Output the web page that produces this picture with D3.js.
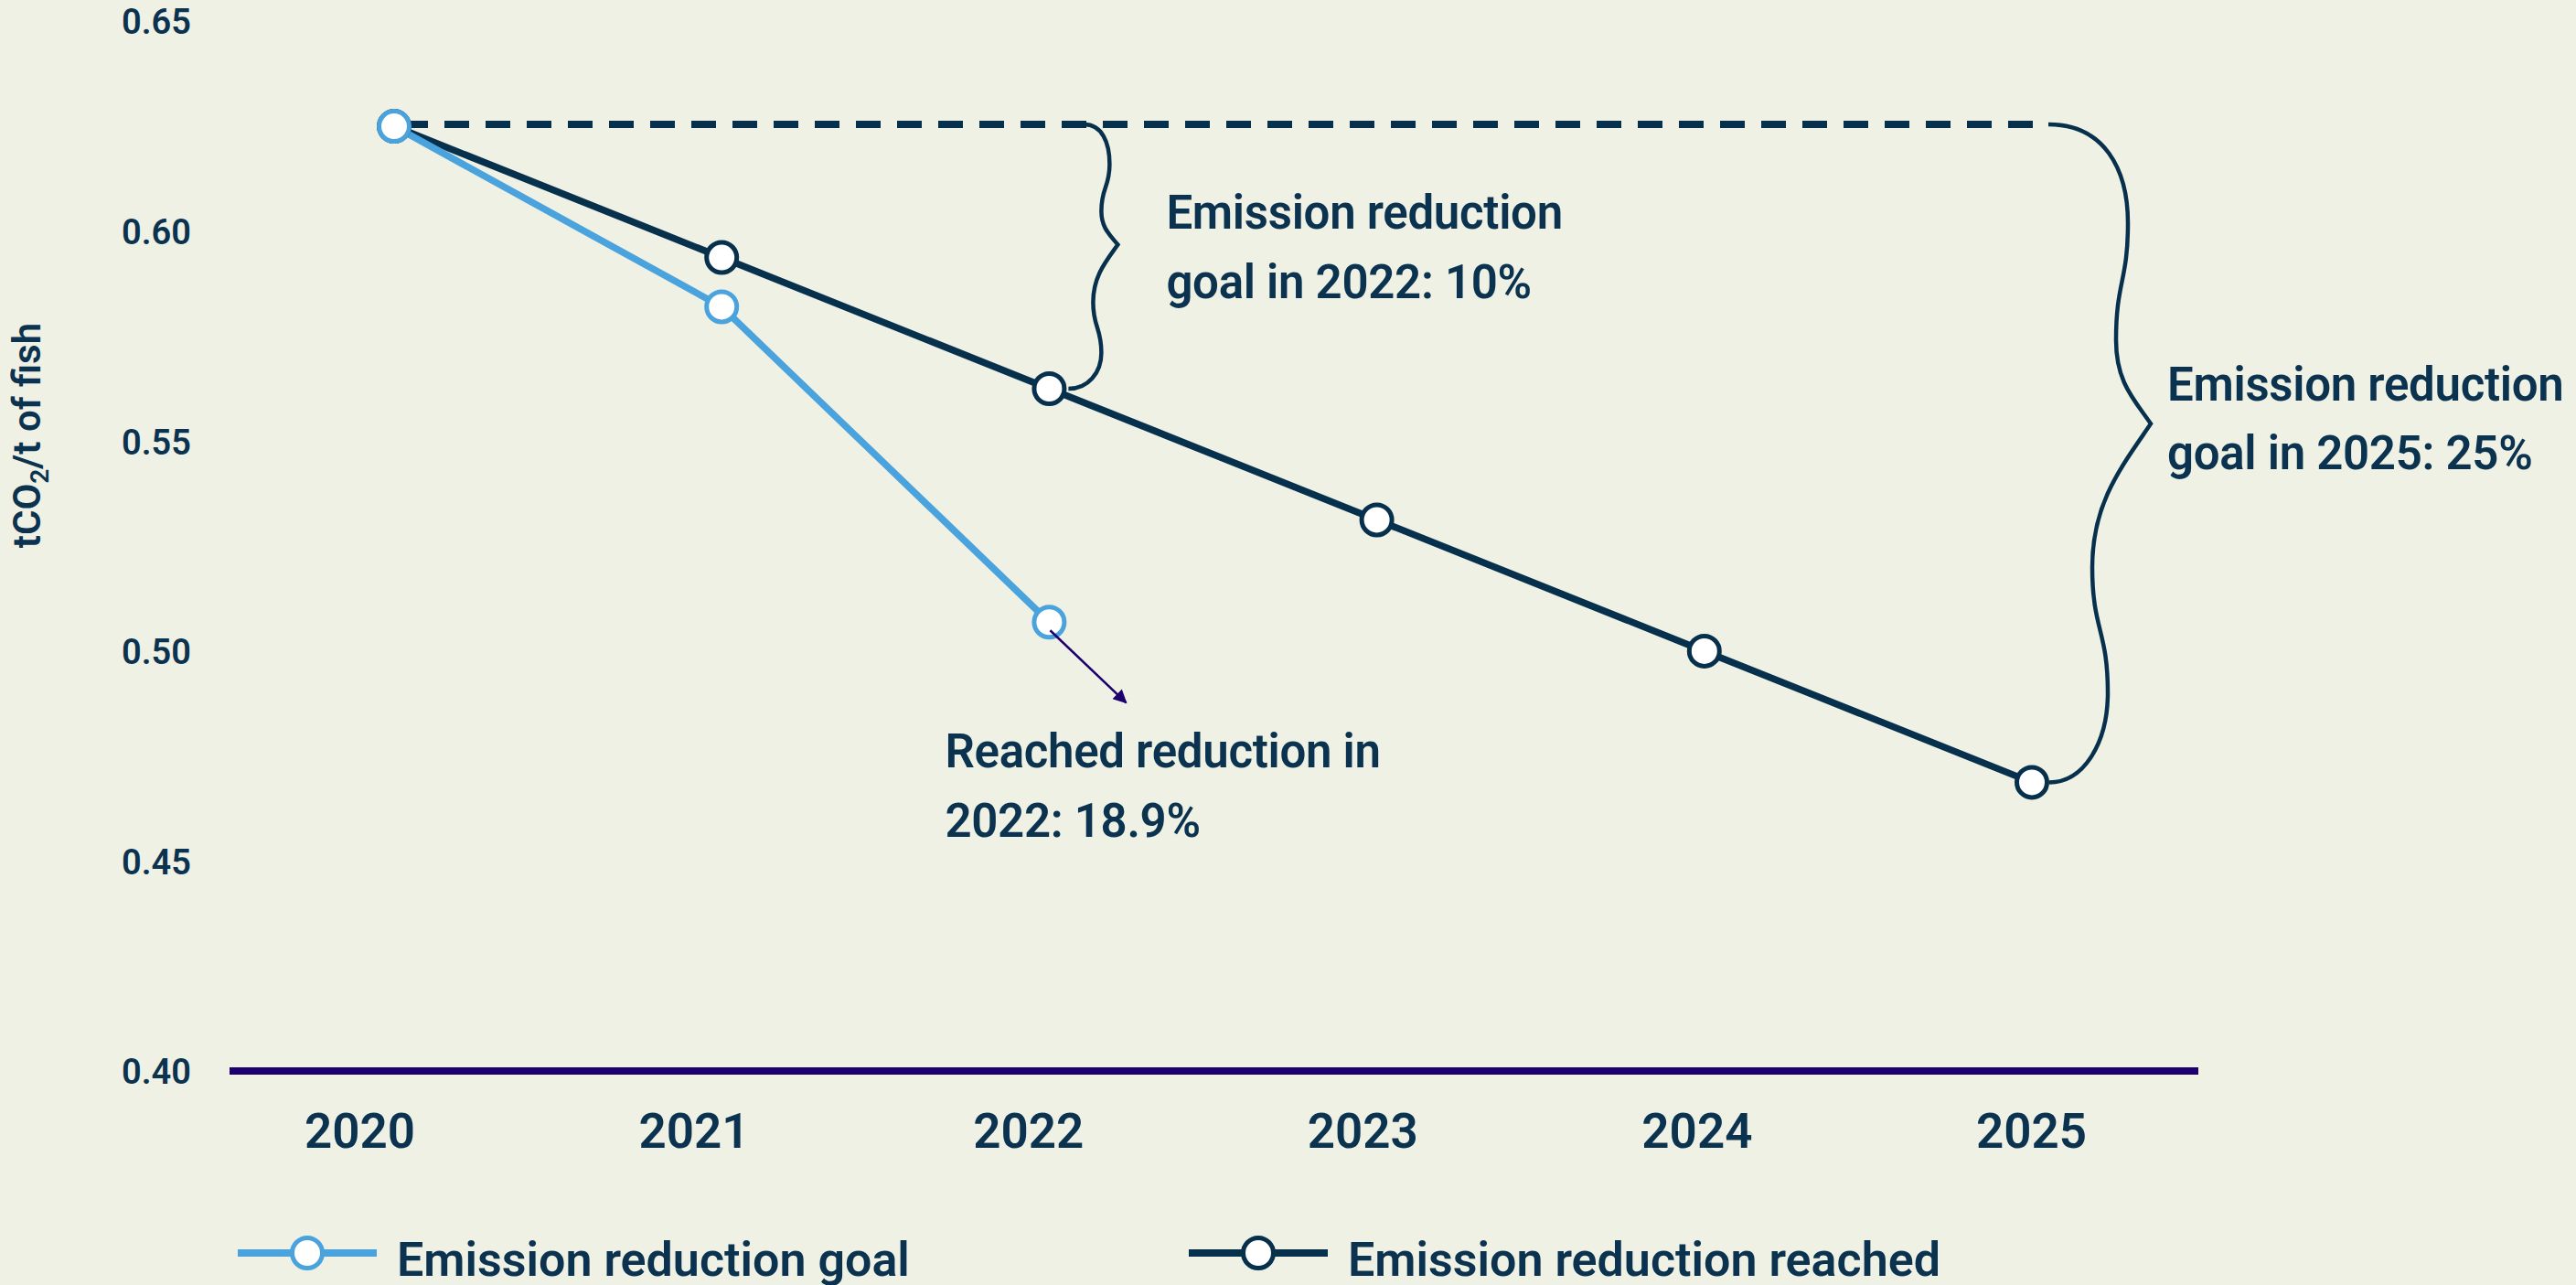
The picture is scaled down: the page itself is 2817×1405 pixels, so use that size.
<!DOCTYPE html>
<html>
<head>
<meta charset="utf-8">
<script src="https://cdn.jsdelivr.net/npm/d3@7/dist/d3.min.js"></script>
<style>
  html, body { margin: 0; padding: 0; background: #eff1e4; }
  svg { display: block; }
  text { font-family: Roboto, "Noto Sans", sans-serif; font-weight: 600; fill: #0b3350; }
</style>
</head>
<body>
<svg id="chart" width="2817" height="1405"></svg>
<script>
// Emission intensity (tCO2 per tonne of fish), 2020–2025
const years = [2020, 2021, 2022, 2023, 2024, 2025];
const reachedValues = [0.625, 0.59375, 0.5625, 0.53125, 0.5, 0.46875];
const goalYears = [2020, 2021, 2022];
const goalValues = [0.625, 0.582, 0.5069];
const yTickValues = [0.40, 0.45, 0.50, 0.55, 0.60, 0.65];
const yearLabels = ["2020", "2021", "2022", "2023", "2024", "2025"];

const darkColor = "#07304d";
const lightColor = "#4aa3dd";
const axisColor = "#1d006e";

const svg = d3.select("#chart");
svg.append("rect").attr("width", 2817).attr("height", 1405).attr("fill", "#eff1e4");

const y = d3.scaleLinear().domain([0.40, 0.65]).range([1171, 23.3]);
const x = d3.scalePoint().domain(years).range([431, 2222]);
const xLabel = d3.scalePoint().domain(yearLabels).range([393, 2221]);

// Y axis labels
const yAxis = d3.axisLeft(y).tickValues(yTickValues).tickFormat(d3.format(".2f")).tickSize(0).tickPadding(0);
const gy = svg.append("g").attr("transform", "translate(209,0)").call(yAxis);
gy.select(".domain").remove();
gy.selectAll("text")
  .attr("font-family", "Roboto, sans-serif").attr("font-weight", 600)
  .attr("font-size", 38).attr("fill", "#0b3350").attr("dy", "0.36em");

// X axis labels
const xAxis = d3.axisBottom(xLabel).tickSize(0).tickPadding(0);
const gx = svg.append("g").attr("transform", "translate(0,1255)").call(xAxis);
gx.select(".domain").remove();
gx.selectAll("text")
  .attr("font-family", "Roboto, sans-serif").attr("font-weight", 600)
  .attr("font-size", 53).attr("fill", "#0b3350").attr("dy", 0);

// Baseline at 0.40
svg.append("line")
  .attr("x1", 251).attr("x2", 2404)
  .attr("y1", y(0.40)).attr("y2", y(0.40))
  .attr("stroke", axisColor).attr("stroke-width", 8);

// Curly brace between the 2020 reference level and a later value
function bracePath(o) {
  const { x0, yTop, x1, yBot, spine, tip, b1, b2, b3, b4 } = o;
  const yTip = yTop + 0.455 * (yBot - yTop);
  const h1 = yTip - yTop, h2 = yBot - yTip;
  const P1 = [spine + b1, yTop + 0.33 * h1];
  const P2 = [spine + b2, yTop + 0.72 * h1];
  const Q1 = [spine + b3, yTip + 0.40 * h2];
  const Q2 = [spine + b4, yTip + 0.75 * h2];
  const p = d3.path();
  p.moveTo(x0, yTop);
  p.bezierCurveTo(x0 + (P1[0] - x0) * 0.7, yTop, P1[0], yTop + (P1[1] - yTop) * 0.45, P1[0], P1[1]);
  p.bezierCurveTo(P1[0], (P1[1] + P2[1]) / 2, P2[0], (P1[1] + P2[1]) / 2, P2[0], P2[1]);
  p.bezierCurveTo(P2[0], P2[1] + (yTip - P2[1]) * 0.5, tip - (tip - P2[0]) * 0.5, yTip - (yTip - P2[1]) * 0.3, tip, yTip);
  p.bezierCurveTo(tip - (tip - Q1[0]) * 0.5, yTip + (Q1[1] - yTip) * 0.3, Q1[0], Q1[1] - (Q1[1] - yTip) * 0.45, Q1[0], Q1[1]);
  p.bezierCurveTo(Q1[0], (Q1[1] + Q2[1]) / 2, Q2[0], (Q1[1] + Q2[1]) / 2, Q2[0], Q2[1]);
  p.bezierCurveTo(Q2[0], Q2[1] + (yBot - Q2[1]) * 0.55, x1 + (Q2[0] - x1) * 0.6, yBot, x1, yBot);
  return p.toString();
}

const base = reachedValues[0];
const x22 = x(2022), x25 = x(2025);

// Dashed reference level
svg.append("line")
  .attr("x1", x(2020)).attr("x2", x25 + 18)
  .attr("y1", y(base) - 2).attr("y2", y(base) - 2)
  .attr("stroke", darkColor).attr("stroke-width", 8)
  .attr("stroke-dasharray", "27,18").attr("stroke-dashoffset", -10);

svg.append("path")
  .attr("d", bracePath({ x0: x22 + 38, yTop: y(base) - 2, x1: x22 + 21, yBot: y(reachedValues[2]),
    spine: x22 + 57, tip: x22 + 75, b1: 9, b2: 0, b3: -9, b4: 0 }))
  .attr("fill", "none").attr("stroke", darkColor).attr("stroke-width", 4.5);

svg.append("path")
  .attr("d", bracePath({ x0: x25 + 18, yTop: y(base) - 2, x1: x25 + 19, yBot: y(reachedValues[5]),
    spine: x25 + 88, tip: x25 + 130, b1: 17, b2: 4, b3: -22, b4: -5 }))
  .attr("fill", "none").attr("stroke", darkColor).attr("stroke-width", 4.5);

// Series lines
const line = d3.line().x(d => x(d[0])).y(d => y(d[1]));
const reached = years.map((yr, i) => [yr, reachedValues[i]]);
const goal = goalYears.map((yr, i) => [yr, goalValues[i]]);

svg.append("path").attr("d", line(reached))
  .attr("fill", "none").attr("stroke", darkColor).attr("stroke-width", 7.5);
svg.append("path").attr("d", line(goal))
  .attr("fill", "none").attr("stroke", lightColor).attr("stroke-width", 7.5);

// Markers
svg.append("g").selectAll("circle").data(reached).join("circle")
  .attr("cx", d => x(d[0])).attr("cy", d => y(d[1])).attr("r", 16.5)
  .attr("fill", "#fff").attr("stroke", darkColor).attr("stroke-width", 5);
svg.append("g").selectAll("circle").data(goal).join("circle")
  .attr("cx", d => x(d[0])).attr("cy", d => y(d[1])).attr("r", 16.5)
  .attr("fill", "#fff").attr("stroke", lightColor).attr("stroke-width", 5);

// Arrow pointing to the reached value note
svg.append("defs").append("marker")
  .attr("id", "arrowhead").attr("viewBox", "0 0 10 10")
  .attr("refX", 9).attr("refY", 5)
  .attr("markerWidth", 7).attr("markerHeight", 6).attr("markerUnits", "strokeWidth")
  .attr("orient", "auto")
  .append("path").attr("d", "M0,0 L10,5 L0,10 Z").attr("fill", axisColor);

const gx22 = x(2022), gy22 = y(goalValues[2]);
svg.append("line")
  .attr("x1", gx22 + 1).attr("y1", gy22 + 9)
  .attr("x2", gx22 + 84).attr("y2", gy22 + 88)
  .attr("stroke", axisColor).attr("stroke-width", 2.5)
  .attr("marker-end", "url(#arrowhead)");

// Annotations
function note(xPos, yPos, lines, dy) {
  const t = svg.append("text").attr("x", xPos).attr("y", yPos)
    .attr("font-size", 51).attr("letter-spacing", -0.3);
  lines.forEach((s, i) => t.append("tspan").attr("x", xPos).attr("dy", i === 0 ? 0 : dy).text(s));
}
note(x22 + 128, 250, ["Emission reduction", "goal in 2022: 10%"], 76);
note(x25 + 148, 438, ["Emission reduction", "goal in 2025: 25%"], 75);
note(gx22 - 114, 839, ["Reached reduction in", "2022: 18.9%"], 76);

// Y axis title
const title = svg.append("text")
  .attr("transform", "translate(44,476) rotate(-90)")
  .attr("text-anchor", "middle").attr("font-size", 42).attr("font-weight", 700);
title.append("tspan").text("tCO");
title.append("tspan").attr("font-size", 28).attr("dy", 9).text("2");
title.append("tspan").attr("dy", -9).text("/t of fish");

// Legend
const legend = [
  { label: "Emission reduction goal", color: lightColor, x0: 260 },
  { label: "Emission reduction reached", color: darkColor, x0: 1300 }
];
const lg = svg.append("g").selectAll("g").data(legend).join("g")
  .attr("transform", d => `translate(${d.x0},1370)`);
lg.append("line").attr("x1", 0).attr("x2", 152).attr("y1", 0).attr("y2", 0)
  .attr("stroke", d => d.color).attr("stroke-width", 8);
lg.append("circle").attr("cx", 76).attr("cy", 0).attr("r", 16.5)
  .attr("fill", "#fff").attr("stroke", d => d.color).attr("stroke-width", 5);
lg.append("text").attr("x", 174).attr("y", 25).attr("font-size", 52).text(d => d.label);
</script>
</body>
</html>
